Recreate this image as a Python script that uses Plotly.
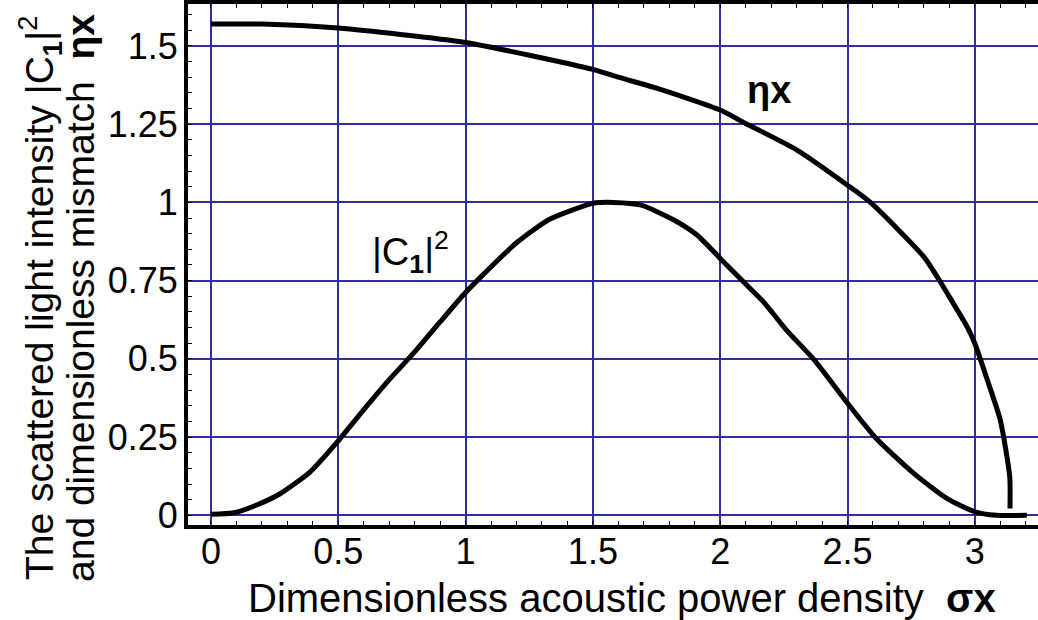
import plotly.graph_objects as go

# ---- data ----
sigma_eta = [0.0, 0.2, 0.5, 1.0, 1.5, 1.6, 1.75, 2.0, 2.1, 2.3, 2.5, 2.59, 2.8, 2.86, 2.9, 2.97, 3.0, 3.05, 3.1, 3.137, 3.138]
eta_x = [1.570, 1.570, 1.557, 1.511, 1.425, 1.400, 1.365, 1.295, 1.252, 1.168, 1.055, 1.000, 0.826, 0.752, 0.698, 0.602, 0.549, 0.430, 0.304, 0.123, 0.022]

sigma_c1 = [0.0, 0.09, 0.18, 0.27, 0.39, 0.5, 0.61, 0.69, 0.8, 0.9, 1.0, 1.07, 1.2, 1.33, 1.5, 1.58,
            1.69, 1.82, 1.91, 2.0, 2.09, 2.17, 2.26, 2.37, 2.5, 2.61, 2.76, 2.89, 3.0, 3.085, 3.204]
c1_sq = [0.003, 0.008, 0.033, 0.068, 0.139, 0.238, 0.347, 0.424, 0.522, 0.618, 0.712, 0.770, 0.871, 0.946, 0.997, 1.0,
         0.991, 0.943, 0.895, 0.821, 0.747, 0.682, 0.592, 0.496, 0.358, 0.248, 0.134, 0.054, 0.011, 0.0, 0.0]

x_ticks = [0, 0.5, 1, 1.5, 2, 2.5, 3]
x_tick_labels = ["0", "0.5", "1", "1.5", "2", "2.5", "3"]
y_ticks = [0, 0.25, 0.5, 0.75, 1, 1.25, 1.5]
y_tick_labels = ["0", "0.25", "0.5", "0.75", "1", "1.25", "1.5"]

FONT = "Liberation Sans, Arial, sans-serif"
GRID = "#2e2e9c"

fig = go.Figure()
fig.add_trace(go.Scatter(x=sigma_eta, y=eta_x, mode="lines",
                         line=dict(color="black", width=5, shape="spline", smoothing=0.6), showlegend=False))
fig.add_trace(go.Scatter(x=sigma_c1, y=c1_sq, mode="lines",
                         line=dict(color="black", width=5, shape="spline", smoothing=0.6), showlegend=False))

fig.update_layout(
    width=1038, height=620,
    margin=dict(l=188, r=0, t=4, b=95),
    paper_bgcolor="white", plot_bgcolor="white",
    font=dict(family=FONT, size=36, color="black"),
    xaxis=dict(
        range=[-0.09, 3.248], tickvals=x_ticks, ticktext=x_tick_labels,
        showgrid=True, gridcolor=GRID, gridwidth=1.5, zeroline=False,
        showline=True, linecolor="black", linewidth=4, mirror="ticks",
        ticks="", ticklen=0, ticklabelstandoff=-8, automargin=False,
        minor=dict(dtick=0.1, tick0=0, ticks="inside", ticklen=4, tickcolor="black", tickwidth=1, showgrid=False),
        tickfont=dict(size=36),
    ),
    yaxis=dict(
        range=[-0.031, 1.634], tickvals=y_ticks, ticktext=y_tick_labels,
        showgrid=True, gridcolor=GRID, gridwidth=1.5, zeroline=False,
        showline=True, linecolor="black", linewidth=4,
        ticks="", ticklen=0, ticklabelstandoff=-1, automargin=False,
        minor=dict(dtick=0.05, tick0=0, ticks="inside", ticklen=4, tickcolor="black", tickwidth=1, showgrid=False),
        tickfont=dict(size=36),
    ),
)

fig.add_annotation(text="Dimensionless acoustic power density  <b>σx</b>",
                   xref="paper", yref="paper", x=(622 - 188) / 850, y=(525 - 598) / 521,
                   showarrow=False, font=dict(size=40), xanchor="center", yanchor="middle")
fig.add_annotation(text="The scattered light intensity |C<sub><b>1</b></sub>|<sup>2</sup>",
                   xref="paper", yref="paper", x=(40 - 188) / 850, y=(525 - 298) / 521,
                   textangle=-90, showarrow=False, font=dict(size=39), xanchor="center", yanchor="middle")
fig.add_annotation(text="and dimensionless mismatch  <b>ηx</b>",
                   xref="paper", yref="paper", x=(80 - 188) / 850, y=(525 - 298) / 521,
                   textangle=-90, showarrow=False, font=dict(size=39), xanchor="center", yanchor="middle")
fig.add_annotation(text="<b>ηx</b>", x=2.19, y=1.36, xref="x", yref="y",
                   showarrow=False, font=dict(size=38))
fig.add_annotation(text="|C<sub><b>1</b></sub>|<sup>2</sup>", x=0.785, y=0.842, xref="x", yref="y",
                   showarrow=False, font=dict(size=38))

fig.write_html("out.html", config={"displayModeBar": False},
               post_script="document.body.style.margin='0';")
